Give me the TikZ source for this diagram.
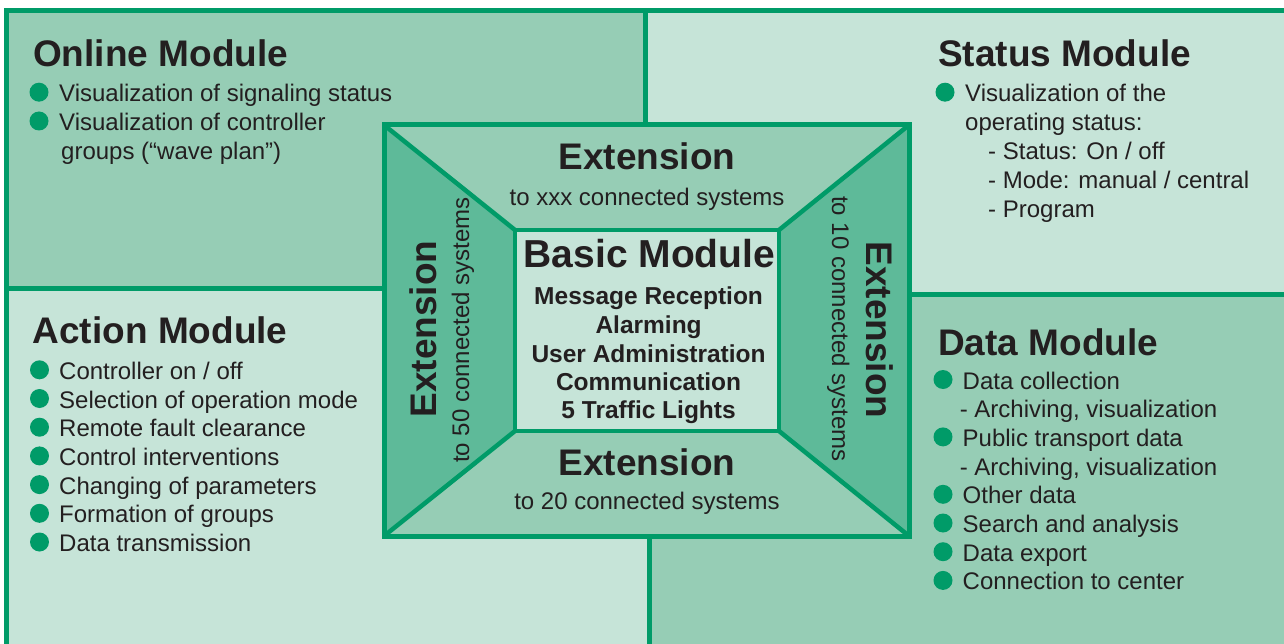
\documentclass[tikz,border=0pt]{standalone}
\usepackage{fontspec}
\setmainfont{Liberation Sans}
\definecolor{gline}{HTML}{009B68}
\definecolor{gmid}{HTML}{96CDB5}
\definecolor{glight}{HTML}{C6E4D8}
\definecolor{gdark}{HTML}{5EBA99}
\definecolor{txt}{HTML}{231F20}
\begin{document}
\begin{tikzpicture}[x=1pt,y=-1pt,
  title/.style={anchor=base west, inner sep=0, font=\fontsize{37}{40}\selectfont\bfseries, text=txt},
  item/.style={anchor=base west, inner sep=0, font=\fontsize{24}{28}\selectfont, text=txt},
  ctitle/.style={anchor=base, inner sep=0, font=\fontsize{37}{40}\selectfont\bfseries, text=txt},
  csub/.style={anchor=base, inner sep=0, font=\fontsize{24}{28}\selectfont, text=txt},
  cbold/.style={anchor=base, inner sep=0, font=\fontsize{24.5}{28}\selectfont\bfseries, text=txt},
  dot/.style={circle, fill=gline, minimum size=19pt, inner sep=0},
  frameline/.style={draw=gline, line width=5pt},
  innerline/.style={draw=gline, line width=4.5pt, line join=miter}
]
\useasboundingbox (0,0) rectangle (1284,644);
\clip (0,0) rectangle (1284,644);
\fill[white] (0,0) rectangle (1284,644);
% quadrant regions
\fill[gmid] (6.6,10.8) rectangle (645,288);
\fill[glight] (645,10.8) rectangle (1300,294);
\fill[glight] (6.6,288) rectangle (649,660);
\fill[gmid] (649,294) rectangle (1300,660);
% outer border and dividers
\draw[frameline, line join=miter] (6.6,660) -- (6.6,10.8) -- (1300,10.8);
\draw[frameline] (645,10.8) -- (645,125);
\draw[frameline] (6.6,288) -- (384,288);
\draw[frameline] (909,294) -- (1300,294);
\draw[frameline] (649,536) -- (649,660);
% center box
\coordinate (A) at (384,125);
\coordinate (B) at (909,125);
\coordinate (C) at (909,536);
\coordinate (D) at (384,536);
\coordinate (a) at (515,230);
\coordinate (b) at (779,230);
\coordinate (c) at (779,431);
\coordinate (d) at (515,431);
\fill[gmid] (A) -- (B) -- (b) -- (a) -- cycle;
\fill[gmid] (D) -- (C) -- (c) -- (d) -- cycle;
\fill[gdark] (A) -- (a) -- (d) -- (D) -- cycle;
\fill[gdark] (B) -- (b) -- (c) -- (C) -- cycle;
\fill[glight] (a) rectangle (c);
\draw[innerline] (A) -- (a) (B) -- (b) (C) -- (c) (D) -- (d);
\draw[innerline] (a) rectangle (c);
\draw[frameline, line join=miter] (A) rectangle (C);
% center texts
\node[ctitle] (ext1) at (647,170) {Extension};
\node[csub] (ext1s) at (647,206) {to xxx connected systems};
\node[anchor=base, inner sep=0, font=\fontsize{39}{42}\selectfont\bfseries, text=txt] (basic) at (649.5,268) {Basic Module};
\node[cbold] (bm1) at (648.6,304) {Message Reception};
\node[cbold] (bm2) at (648.6,333) {Alarming};
\node[cbold] (bm3) at (648.6,362) {User Administration};
\node[cbold] (bm4) at (648.6,390) {Communication};
\node[cbold] (bm5) at (648.6,418) {5 Traffic Lights};
\node[ctitle] (ext2) at (647,475) {Extension};
\node[csub] (ext2s) at (647,509) {to 20 connected systems};
\node[ctitle, rotate=90] (ext3) at (436,329) {Extension};
\node[csub, rotate=90] (ext3s) at (469,330) {to 50 connected systems};
\node[ctitle, rotate=-90] (ext4) at (866,330) {Extension};
\node[csub, rotate=-90] (ext4s) at (832,329) {to 10 connected systems};
% Online Module
\node[title] (ont) at (33,67) {Online Module};
\node[dot] (od1) at (39,92.2) {};
\node[item] (o1) at (59,101.7) {Visualization of signaling status};
\node[dot] (od2) at (39,121) {};
\node[item] (o2) at (59,130.5) {Visualization of controller};
\node[item] (o3) at (61,159.5) {groups (“wave plan”)};
% Status Module
\node[title] (stt) at (938,67) {Status Module};
\node[dot] (sd1) at (945,92.2) {};
\node[item] (s1) at (965,101.7) {Visualization of the};
\node[item] (s2) at (965,130.5) {operating status:};
\node[item] (s3) at (988,159.5) {- Status: On / off};
\node[item] (s4) at (988,188.5) {- Mode: manual / central};
\node[item] (s5) at (988,217.5) {- Program};
% Action Module
\node[title] (act) at (32.5,343) {Action Module};
\foreach \t [count=\i from 0] in {Controller on / off, Selection of operation mode, Remote fault clearance, Control interventions, Changing of parameters, Formation of groups, Data transmission} {
  \node[dot] (ad\i) at (39.5,369.8+28.7*\i) {};
  \node[item] (a\i) at (59,379.3+28.7*\i) {\t};
}
% Data Module
\node[title] (dat) at (938,355) {Data Module};
\node[dot] (dd1) at (943,379.5) {};
\node[item] (d1) at (962.5,389) {Data collection};
\node[item] (d2) at (959.6,417.7) {- Archiving, visualization};
\node[dot] (dd3) at (943,436.9) {};
\node[item] (d3) at (962.5,446.4) {Public transport data};
\node[item] (d4) at (959.6,475.1) {- Archiving, visualization};
\node[dot] (dd5) at (943,494.3) {};
\node[item] (d5) at (962.5,503.8) {Other data};
\node[dot] (dd6) at (943,523) {};
\node[item] (d6) at (962.5,532.5) {Search and analysis};
\node[dot] (dd7) at (943,551.7) {};
\node[item] (d7) at (962.5,561.2) {Data export};
\node[dot] (dd8) at (943,580.4) {};
\node[item] (d8) at (962.5,589.9) {Connection to center};
\end{tikzpicture}
\end{document}
